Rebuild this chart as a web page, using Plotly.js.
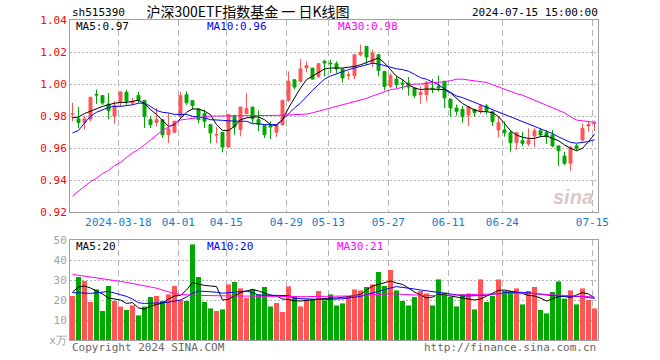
<!DOCTYPE html>
<html><head><meta charset="utf-8">
<script src="https://cdn.plot.ly/plotly-3.0.1.min.js"></script>
<style>html,body{margin:0;padding:0;background:#fff}#chart{width:660px;height:360px}</style>
</head><body><div id="chart"></div>
<script>
const dates = [
'2024-03-06','2024-03-07','2024-03-08','2024-03-11','2024-03-12','2024-03-13','2024-03-14','2024-03-15',
'2024-03-18','2024-03-19','2024-03-20','2024-03-21','2024-03-22','2024-03-25','2024-03-26','2024-03-27','2024-03-28','2024-03-29',
'2024-04-01','2024-04-02','2024-04-03','2024-04-08','2024-04-09','2024-04-10','2024-04-11','2024-04-12',
'2024-04-15','2024-04-16','2024-04-17','2024-04-18','2024-04-19','2024-04-22','2024-04-23','2024-04-24','2024-04-25','2024-04-26',
'2024-04-29','2024-04-30','2024-05-06','2024-05-07','2024-05-08','2024-05-09','2024-05-10',
'2024-05-13','2024-05-14','2024-05-15','2024-05-16','2024-05-17','2024-05-20','2024-05-21','2024-05-22','2024-05-23','2024-05-24',
'2024-05-27','2024-05-28','2024-05-29','2024-05-30','2024-05-31','2024-06-03','2024-06-04','2024-06-05','2024-06-06','2024-06-07',
'2024-06-11','2024-06-12','2024-06-13','2024-06-14','2024-06-17','2024-06-18','2024-06-19','2024-06-20','2024-06-21',
'2024-06-24','2024-06-25','2024-06-26','2024-06-27','2024-06-28','2024-07-01','2024-07-02','2024-07-03','2024-07-04','2024-07-05',
'2024-07-08','2024-07-09','2024-07-10','2024-07-11','2024-07-12','2024-07-15'];

const open = [0.9812,0.9783,0.9760,0.9781,0.9935,0.9927,0.9875,0.9798,0.9892,0.9948,0.9881,0.9929,0.9898,0.9777,0.9760,0.9777,0.9683,0.9698,
0.9798,0.9933,0.9896,0.9844,0.9815,0.9746,0.9681,0.9698,0.9606,0.9802,0.9715,0.9815,0.9856,0.9777,0.9740,0.9740,0.9698,0.9746,
0.9898,1.0027,1.0017,1.0100,1.0100,1.0048,1.0142,1.0131,1.0127,1.0094,1.0052,1.0052,1.0183,1.0235,1.0131,1.0183,1.0079,0.9985,
1.0031,1.0006,1.0006,0.9975,0.9933,0.9933,0.9975,0.9985,1.0017,0.9906,0.9850,0.9842,0.9806,0.9842,0.9833,0.9863,0.9827,0.9713,
0.9713,0.9696,0.9633,0.9646,0.9625,0.9675,0.9708,0.9696,0.9681,0.9613,0.9550,0.9504,0.9613,0.9650,0.9738,0.9754];
const high = [0.9883,0.9856,0.9802,0.9920,0.9965,0.9930,0.9944,0.9892,0.9954,0.9965,0.9913,0.9950,0.9900,0.9798,0.9850,0.9780,0.9819,0.9770,
0.9950,0.9954,0.9896,0.9844,0.9840,0.9746,0.9731,0.9698,0.9815,0.9808,0.9856,0.9944,0.9856,0.9835,0.9740,0.9767,0.9740,0.9900,
1.0079,1.0027,1.0156,1.0142,1.0100,1.0127,1.0152,1.0152,1.0142,1.0094,1.0079,1.0183,1.0246,1.0235,1.0215,1.0183,1.0079,1.0069,
1.0052,1.0031,1.0044,0.9975,0.9985,1.0017,1.0031,1.0052,1.0017,0.9906,0.9871,0.9863,0.9858,0.9842,0.9875,0.9875,0.9827,0.9800,
0.9765,0.9713,0.9696,0.9702,0.9723,0.9723,0.9723,0.9713,0.9713,0.9613,0.9577,0.9613,0.9625,0.9754,0.9765,0.9771];
const low = [0.9767,0.9725,0.9715,0.9767,0.9875,0.9870,0.9780,0.9752,0.9860,0.9870,0.9870,0.9880,0.9725,0.9725,0.9735,0.9663,0.9631,0.9690,
0.9787,0.9870,0.9840,0.9756,0.9725,0.9631,0.9631,0.9573,0.9600,0.9683,0.9673,0.9810,0.9756,0.9704,0.9663,0.9656,0.9669,0.9740,
0.9890,0.9965,1.0010,1.0073,1.0027,1.0038,1.0048,1.0069,1.0069,1.0010,1.0027,1.0031,1.0173,1.0121,1.0106,1.0048,0.9960,0.9975,
0.9975,0.9965,0.9927,0.9913,0.9877,0.9892,0.9944,0.9954,0.9850,0.9794,0.9802,0.9758,0.9738,0.9796,0.9813,0.9810,0.9738,0.9667,
0.9671,0.9577,0.9588,0.9613,0.9613,0.9608,0.9671,0.9625,0.9604,0.9488,0.9494,0.9458,0.9583,0.9640,0.9702,0.9708];
const close = [0.9815,0.9760,0.9783,0.9917,0.9931,0.9881,0.9835,0.9865,0.9950,0.9892,0.9892,0.9898,0.9798,0.9746,0.9777,0.9683,0.9719,0.9767,
0.9927,0.9883,0.9865,0.9777,0.9767,0.9694,0.9683,0.9606,0.9808,0.9731,0.9856,0.9846,0.9783,0.9746,0.9683,0.9731,0.9740,0.9898,
1.0017,0.9981,1.0094,1.0115,1.0031,1.0127,1.0131,1.0127,1.0094,1.0038,1.0058,1.0183,1.0198,1.0169,1.0194,1.0085,0.9985,1.0052,
0.9996,1.0000,0.9981,0.9927,0.9948,1.0010,0.9969,0.9975,0.9913,0.9850,0.9829,0.9796,0.9858,0.9821,0.9863,0.9833,0.9765,0.9758,
0.9696,0.9633,0.9696,0.9629,0.9650,0.9708,0.9681,0.9671,0.9613,0.9583,0.9504,0.9604,0.9598,0.9723,0.9748,0.9758];

const ma5 = [0.9788,0.9794,0.9815,0.9830,0.9846,0.9860,0.9870,0.9880,0.9885,0.9885,0.9892,0.9898,0.9877,0.9840,0.9810,0.9773,0.9735,0.9746,
0.9788,0.9823,0.9844,0.9844,0.9830,0.9808,0.9746,0.9710,0.9710,0.9735,0.9777,0.9788,0.9794,0.9794,0.9777,0.9746,0.9740,0.9777,
0.9850,0.9913,0.9975,1.0027,1.0048,1.0069,1.0094,1.0100,1.0100,1.0100,1.0105,1.0110,1.0120,1.0135,1.0152,1.0163,1.0131,1.0090,
1.0048,1.0027,0.9996,0.9975,0.9965,0.9969,0.9969,0.9969,0.9965,0.9944,0.9913,0.9878,0.9857,0.9838,0.9827,0.9827,0.9821,0.9796,
0.9754,0.9708,0.9681,0.9667,0.9660,0.9660,0.9671,0.9675,0.9660,0.9646,0.9619,0.9598,0.9583,0.9598,0.9640,0.9686];
const ma10 = [0.9694,0.9710,0.9756,0.9798,0.9823,0.9840,0.9854,0.9860,0.9860,0.9865,0.9870,0.9880,0.9880,0.9860,0.9835,0.9823,0.9819,0.9810,
0.9810,0.9810,0.9798,0.9794,0.9788,0.9777,0.9773,0.9773,0.9770,0.9767,0.9767,0.9767,0.9752,0.9752,0.9746,0.9746,0.9746,0.9777,
0.9815,0.9850,0.9881,0.9923,0.9960,0.9996,1.0030,1.0050,1.0065,1.0075,1.0090,1.0100,1.0110,1.0120,1.0130,1.0125,1.0115,1.0105,
1.0095,1.0090,1.0080,1.0060,1.0040,1.0030,1.0015,0.9995,0.9970,0.9950,0.9925,0.9915,0.9900,0.9885,0.9870,0.9855,0.9840,0.9830,
0.9810,0.9795,0.9780,0.9765,0.9750,0.9735,0.9720,0.9705,0.9690,0.9670,0.9650,0.9635,0.9630,0.9635,0.9640,0.9652];
const ma30 = [0.930,0.933,0.936,0.939,0.941,0.944,0.946,0.949,0.951,0.954,0.957,0.959,0.962,0.965,0.968,0.971,0.973,0.9755,
0.9775,0.978,0.9785,0.979,0.9795,0.980,0.980,0.980,0.980,0.980,0.9801,0.9802,0.9803,0.9804,0.9804,0.9804,0.9804,0.9805,
0.9806,0.9808,0.981,0.9812,0.982,0.983,0.984,0.985,0.986,0.987,0.988,0.989,0.990,0.991,0.9925,0.994,0.995,0.9965,
0.997,0.998,0.999,1.000,1.000,1.0005,1.001,1.001,1.0015,1.002,1.003,1.003,1.0025,1.002,1.0015,1.001,0.9995,0.998,
0.9968,0.9955,0.994,0.993,0.9915,0.990,0.9885,0.987,0.9855,0.984,0.982,0.9795,0.9775,0.977,0.9765,0.976];

const volume = [22,31.5,29.5,19,25.3,14.5,27,19.5,16.7,15,17.3,12.3,16.7,21.5,22,19.5,22.8,27,
20,19.5,47.8,31.5,19,15.8,14.5,15.3,27.8,29,25.8,21,25.3,22.8,26.5,16.8,18.5,14,
26.8,21.5,16.8,20.3,20.3,24.5,19.8,22.8,17.3,18.3,22,25.3,24.8,26.5,27.8,34,27,35,
24.8,19.5,17.3,21.5,24.5,23.3,17.3,30.3,23.7,21.5,16.8,22.8,23.3,15.3,30.3,19,22,30.3,
24.5,24.5,25.8,17.8,24.5,26.5,15,13.3,24,29.3,20.7,24.8,17.8,25.8,20,15.8];
const volMa5 = [24,26.5,27,26,24.5,23,21,20.5,20,18.3,18.7,16,15.5,16.8,17.8,18.4,20.5,22,
22.3,25,28.7,28,27.3,27,26.7,20,20.3,22,23.7,24.5,25.3,24.5,23.3,22.5,22,20.5,
20.2,19.6,19.5,19.8,20.3,20.6,21,21,21,21.2,21.7,22.2,22.8,25,27,27.8,28.5,29.5,
28.5,27.8,26,24,22.5,21,21.5,22.8,22.5,22,21.6,21.2,20.8,20,20.5,22,23.5,24.8,
25,24.5,24,23.2,22.3,22,21,19.5,20.5,21.8,21.8,21.2,22.5,23.7,23,21];
const volMa10 = [23.7,23.5,23.4,23.3,23.6,24,24.3,23.5,22.6,21.8,20.5,18.6,18.3,18.3,18.4,18.6,18.9,19.4,
20,21.5,23.3,24.5,24.4,24.2,23.9,23.4,23.5,23.9,24.2,24.5,23.6,22.5,22.4,22.4,22.5,22.4,
22.2,20.8,20.6,20.5,20.3,20.3,20.3,20.3,20.4,20.6,21,21.4,21.8,22.7,23.6,24.5,25.2,26,
26.7,26.4,26,25.5,25,24.6,24.3,24,23.7,23.2,22.6,22,22,22,22.2,22.4,22.7,23.2,
23.6,24,23.9,23.8,23.7,23.2,22.8,22.3,22.2,22,22,22,22,21.7,21.2,20.8];
const volMa30 = [32.8,32.4,32,31.6,31.2,30.8,30.3,29.8,29.3,28.8,28.3,27.8,27.2,26.5,25.9,25,24,23.2,
22.8,22.5,22.4,22.3,22.2,22.2,22.1,22.1,22,22,22,21.9,21.9,21.9,21.8,21.8,21.8,21.7,
21.7,21.7,21.7,21.7,21.7,21.8,21.8,21.9,21.9,22,22,22.2,22.4,22.6,22.8,23,23.1,23.1,
23,22.8,22.6,22.4,22.3,22.2,22.2,22.3,22.4,22.5,22.6,22.7,22.8,22.9,23,23.1,23.2,23.3,
23.4,23.5,23.5,23.4,23.3,23.1,22.9,22.7,22.5,22.3,22.1,22,21.9,21.8,21.7,21.5];

const tickDates = ['2024-03-18','2024-04-01','2024-04-15','2024-04-29','2024-05-13','2024-05-27','2024-06-11','2024-06-24','2024-07-15'];
const tickLabels = ['2024-03-18','04-01','04-15','04-29','05-13','05-27','06-11','06-24','07-15'];
const priceTicks = [0.92,0.94,0.96,0.98,1.00,1.02,1.04];
const volTicks = [0,10,20,30,40,50];
const volTickLabels = ['x万','10','20','30','40','50'];

const UP = '#ff5555', DOWN = '#00a800';
const MONO = 'DejaVu Sans Mono, monospace';
const xIdx = dates.map((d, i) => i);
const volColors = close.map((c, i) => c >= open[i] ? UP : DOWN);
const xTickVals = tickDates.map(d => dates.indexOf(d) - 0.35);

const traces = [
  {type:'candlestick', x:xIdx, open:open, high:high, low:low, close:close, xaxis:'x', yaxis:'y',
   increasing:{line:{color:UP,width:1}, fillcolor:UP}, decreasing:{line:{color:DOWN,width:1}, fillcolor:DOWN},
   whiskerwidth:0, hoverinfo:'skip'},
  {type:'scatter', mode:'lines', x:xIdx, y:ma5, line:{color:'#000000',width:1}, xaxis:'x', yaxis:'y', hoverinfo:'skip'},
  {type:'scatter', mode:'lines', x:xIdx, y:ma10, line:{color:'#0000ff',width:1}, xaxis:'x', yaxis:'y', hoverinfo:'skip'},
  {type:'scatter', mode:'lines', x:xIdx, y:ma30, line:{color:'#ff00ff',width:1}, xaxis:'x', yaxis:'y', hoverinfo:'skip'},
  {type:'bar', x:xIdx, y:volume, width:0.84, marker:{color:volColors, line:{width:0}}, xaxis:'x2', yaxis:'y2', hoverinfo:'skip'},
  {type:'scatter', mode:'lines', x:xIdx, y:volMa5, line:{color:'#000000',width:1}, xaxis:'x2', yaxis:'y2', hoverinfo:'skip'},
  {type:'scatter', mode:'lines', x:xIdx, y:volMa10, line:{color:'#0000ff',width:1}, xaxis:'x2', yaxis:'y2', hoverinfo:'skip'},
  {type:'scatter', mode:'lines', x:xIdx, y:volMa30, line:{color:'#ff00ff',width:1}, xaxis:'x2', yaxis:'y2', hoverinfo:'skip'}
];

const GRID = '#b4b4b4', BORDER = '#a0a0a0';
const xBase = {range:[-0.4167, 87.583], tickvals:xTickVals, ticks:'', showgrid:true, gridcolor:GRID, griddash:'6px,4px', gridwidth:1,
  showline:true, mirror:true, linecolor:BORDER, linewidth:1, zeroline:false, fixedrange:true};

function ann(text, px, py, color, xanchor, size, font) {
  return {text:text, xref:'paper', yref:'paper', x:(px-70)/528, y:(340-py)/320, xanchor:xanchor||'left', yanchor:'middle',
    showarrow:false, font:{family:font||MONO, size:size||11, color:color}};
}

const layout = {
  width:660, height:360, margin:{l:70, r:62, t:20, b:20},
  paper_bgcolor:'#ffffff', plot_bgcolor:'#ffffff', showlegend:false, boxgap:0.3,
  title:{text:'沪深300ETF指数基金 一 日K线图', x:248/660, xanchor:'center', y:1-12/360, yanchor:'middle',
    font:{family:'Noto Sans CJK SC', size:14, color:'#000'}},
  xaxis: Object.assign({}, xBase, {anchor:'y', domain:[0,1], ticktext:tickLabels, showticklabels:true,
    tickfont:{family:MONO, size:11, color:'#1878d0'}, rangeslider:{visible:false}}),
  xaxis2: Object.assign({}, xBase, {anchor:'y2', domain:[0,1], showticklabels:false}),
  yaxis: {domain:[0.4,1], range:[0.92,1.04], tickvals:priceTicks, ticktext:priceTicks.map(v=>v.toFixed(2)), ticks:'',
    tickfont:{family:MONO, size:11, color:'#ff0000'}, showgrid:true, gridcolor:GRID, griddash:'2px,2px',
    showline:true, mirror:true, linecolor:BORDER, linewidth:1, zeroline:false, fixedrange:true},
  yaxis2: {domain:[0,0.3125], range:[0,50], tickvals:volTicks, ticktext:volTickLabels, ticks:'',
    tickfont:{family:MONO, size:11, color:'#a0a0a0'}, showgrid:true, gridcolor:GRID, griddash:'2px,2px',
    showline:true, mirror:true, linecolor:BORDER, linewidth:1, zeroline:false, fixedrange:true},
  annotations: [
    ann('sh515390', 70, 12, '#000'),
    ann('2024-07-15 15:00:00', 600, 12, '#000', 'right'),
    ann('MA5:0.97', 74, 27, '#000'),
    ann('MA10:0.96', 205, 27, '#0000ff'),
    ann('MA30:0.98', 336, 27, '#ff00ff'),
    ann('MA5:20', 74, 246, '#000'),
    ann('MA10:20', 205, 246, '#0000ff'),
    ann('MA30:21', 335, 246, '#ff00ff'),
    ann('Copyright 2024 SINA.COM', 70, 347, '#666666'),
    ann('http://finance.sina.com.cn', 598, 347, '#666666', 'right'),
    ann('<b><i>sina</i></b>', 573, 197, '#dcc8c8', 'center', 20, 'Liberation Sans, Arial, sans-serif')
  ]
};

Plotly.newPlot('chart', traces, layout, {staticPlot:true, displayModeBar:false});
</script>
</body></html>
